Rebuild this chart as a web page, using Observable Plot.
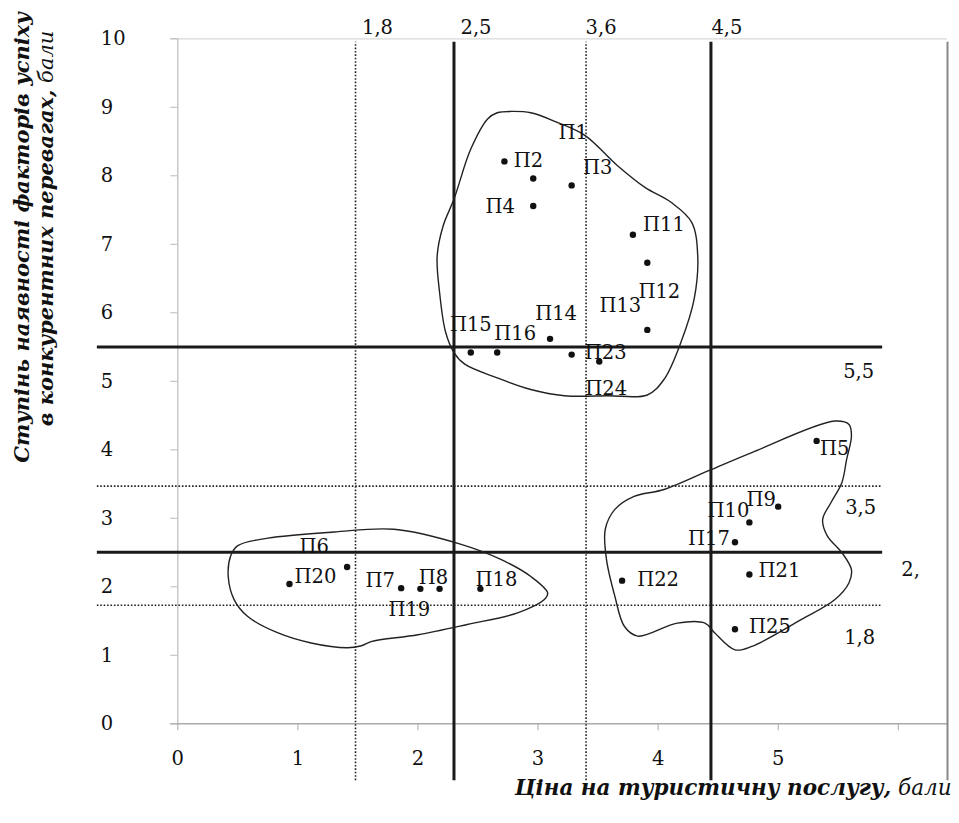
<!DOCTYPE html>
<html><head><meta charset="utf-8">
<script src="https://cdn.jsdelivr.net/npm/d3@7"></script>
<script src="https://cdn.jsdelivr.net/npm/@observablehq/plot@0.6"></script>
<style>body{margin:0;background:#fff} svg{display:block}</style>
</head><body><div id="chart"></div>
<script>
// ---- data ----
const pointNames = ["П1","П2","П3","П4","П5","П6","П7","П8","П9","П10","П11","П12","П13","П14","П15","П16","П17","П18","П19","П20","П21","П22","П23","П24","П25"];
const pointX = [2.96,2.72,3.28,2.96,5.32,1.41,1.86,2.18,5.00,4.76,3.79,3.91,3.91,3.10,2.44,2.66,4.64,2.52,2.02,0.93,4.76,3.70,3.28,3.51,4.64];
const pointY = [7.96,8.21,7.86,7.56,4.13,2.29,1.98,1.97,3.17,2.94,7.14,6.73,5.75,5.62,5.42,5.42,2.65,1.97,1.97,2.04,2.18,2.09,5.39,5.29,1.38];

const xTicks = [0,1,2,3,4,5,6];
const xTickLabels = ["0","1","2","3","4","5",""];
const yTicks = [0,1,2,3,4,5,6,7,8,9,10];

const vSolid = [2.30, 4.44];
const vDotted = [1.48, 3.40];
const vLinePos = [1.48, 2.30, 3.40, 4.44];
const vLineLabels = ["1,8","2,5","3,6","4,5"];

const hSolid = [5.5, 2.505];
const hDotted = [3.47, 1.73];
const hLinePos = [5.5, 3.47, 2.505, 1.73];
const hLineLabels = ["5,5","3,5","2,","1,8"];

const hull1 = [[2.66,8.92],[2.58,8.83],[2.44,8.39],[2.30,7.66],[2.21,7.27],[2.16,6.83],[2.18,6.30],[2.23,5.72],[2.30,5.42],[2.39,5.25],[2.66,5.05],[2.94,4.88],[3.22,4.79],[3.58,4.79],[3.91,4.80],[4.05,5.03],[4.19,5.57],[4.30,6.20],[4.33,6.83],[4.28,7.32],[4.11,7.61],[3.89,7.83],[3.66,8.15],[3.39,8.59],[3.16,8.78],[2.94,8.92],[2.78,8.94]];
const hull2 = [[5.59,4.37],[5.47,4.42],[4.78,3.96],[4.44,3.71],[4.05,3.42],[3.80,3.32],[3.64,3.13],[3.56,2.84],[3.57,2.40],[3.64,1.86],[3.72,1.42],[3.83,1.28],[4.16,1.47],[4.39,1.47],[4.47,1.33],[4.64,1.08],[4.78,1.13],[5.19,1.52],[5.47,1.81],[5.59,2.06],[5.61,2.25],[5.53,2.50],[5.41,2.74],[5.37,2.98],[5.44,3.23],[5.53,3.52],[5.57,3.86],[5.61,4.20]];
const hull3 = [[0.50,2.60],[0.44,2.45],[0.42,2.15],[0.47,1.81],[0.58,1.57],[0.83,1.33],[1.11,1.18],[1.41,1.11],[1.53,1.14],[1.61,1.20],[2.00,1.30],[2.41,1.45],[2.83,1.62],[3.05,1.81],[3.08,1.91],[2.94,2.15],[2.69,2.40],[2.36,2.62],[1.80,2.84],[1.30,2.80],[0.75,2.71]];

const xTitle = "Ціна на туристичну послугу, бали";
const yTitle1 = "Ступінь наявності факторів успіху";
const yTitle2 = "в конкурентних перевагах, бали";

// ---- styling (pixel offsets) ----
const labelOffset = {
  "П1":[40,-46],"П2":[24,-1],"П3":[26,-18],"П4":[-33,1],"П5":[18,8],"П6":[-33,-20],
  "П7":[-21,-7],"П8":[-6,-11],"П9":[-17,-7],"П10":[-21,-12],"П11":[31,-10],"П12":[12,29],
  "П13":[-27,-24],"П14":[6,-25],"П15":[0,-28],"П16":[18,-19],"П17":[-26,-4],"П18":[16,-9],
  "П19":[-11,21],"П20":[26,-7],"П21":[30,-4],"П22":[36,-1],"П23":[34,-2],"П24":[7,27],"П25":[35,-3]
};
const vLabelDx = [22,22,15,16];
const hLabelOff = [[0,25],[2,22],[52,18],[1,32]];

const points = pointNames.map((n,i)=>({name:n, x:pointX[i], y:pointY[i]}));
const FONT = "'DejaVu Serif',serif";
const FS = 19.5;

const chart = Plot.plot({
  width: 959, height: 823,
  marginLeft: 177.3, marginRight: 12, marginTop: 38.3, marginBottom: 99.7,
  x: {domain: [0, 6.41]},
  y: {domain: [0, 10]},
  style: {fontFamily: FONT, fontSize: FS + "px", color: "#111", background: "#fff"},
  marks: [
    // frame
    Plot.ruleY([10], {x1: -0.06, x2: 6.41, stroke: "#d8d8d8", strokeWidth: 1.2}),
    Plot.ruleX([0], {y1: 0, y2: 10, stroke: "#bbb", strokeWidth: 1.2}),
    Plot.ruleY([0], {x1: -0.06, x2: 6.41, stroke: "#aaa", strokeWidth: 1.5}),
    Plot.ruleX([6.41], {y1: -0.83, y2: 9.95, stroke: "#888", strokeWidth: 2}),
    Plot.axisX({ticks: xTicks, tickFormat: (d)=>xTickLabels[xTicks.indexOf(d)], tickSize: 7, stroke: "#aaa", tickPadding: 27.7, lineAnchor: "middle", fontSize: FS, label: null}),
    Plot.axisY({ticks: yTicks, tickSize: 7, stroke: "#bbb", tickPadding: 70, textAnchor: "start", fontSize: FS, label: null}),
    // reference lines
    Plot.ruleX(vDotted, {y1: -0.83, y2: 9.95, stroke: "#222", strokeWidth: 1.6, strokeDasharray: "1.6,1.8"}),
    Plot.ruleX(vSolid, {y1: -0.83, y2: 9.95, stroke: "#1a1a1a", strokeWidth: 3}),
    Plot.ruleY(hDotted, {x1: -0.67, x2: 5.87, stroke: "#222", strokeWidth: 1.6, strokeDasharray: "1.6,1.8"}),
    Plot.ruleY(hSolid, {x1: -0.67, x2: 5.87, stroke: "#1a1a1a", strokeWidth: 3}),
    ...vLinePos.map((v,i)=>Plot.text([v], {x: d=>d, y: 10, text: [vLineLabels[i]], dx: vLabelDx[i], dy: -11, fontSize: FS})),
    ...hLinePos.map((v,i)=>Plot.text([v], {x: 5.67, y: d=>d, text: [hLineLabels[i]], dx: hLabelOff[i][0], dy: hLabelOff[i][1], fontSize: FS})),
    // hulls
    ...[hull1, hull2, hull3].map(h=>Plot.line(h, {x: d=>d[0], y: d=>d[1], curve: "catmull-rom-closed", stroke: "#222", strokeWidth: 1.4})),
    // points
    Plot.dot(points, {x: "x", y: "y", r: 3.2, fill: "#111"}),
    ...points.map(p=>Plot.text([p], {x: "x", y: "y", text: "name", dx: labelOffset[p.name][0], dy: labelOffset[p.name][1], fontSize: FS})),
    // axis titles
    Plot.text([xTitle], {frameAnchor: "bottom-right", text: d=>d, textAnchor: "end", dx: 4, dy: 71, fontSize: 21.5}),
    Plot.text([yTitle1], {frameAnchor: "left", text: d=>d, textAnchor: "middle", rotate: -90, dx: -155.3, dy: -143.8, fontSize: 21}),
    Plot.text([yTitle2], {frameAnchor: "left", text: d=>d, textAnchor: "middle", rotate: -90, dx: -131.3, dy: -152.8, fontSize: 21})
  ]
});

// mixed bold-italic / italic titles
d3.select(chart).selectAll("text").each(function(){
  const t = this.textContent;
  if (t === xTitle || t === yTitle1 || t === yTitle2) {
    const sel = d3.select(this).attr("font-style", "italic").attr("font-weight", "bold");
    sel.text(null);
    const idx = t.lastIndexOf(", бали");
    if (idx >= 0) {
      sel.append("tspan").text(t.slice(0, idx + 1));
      sel.append("tspan").attr("font-weight", "normal").text(" бали");
    } else {
      sel.append("tspan").text(t);
    }
  }
});

document.getElementById("chart").appendChild(chart);
</script>
</body></html>
